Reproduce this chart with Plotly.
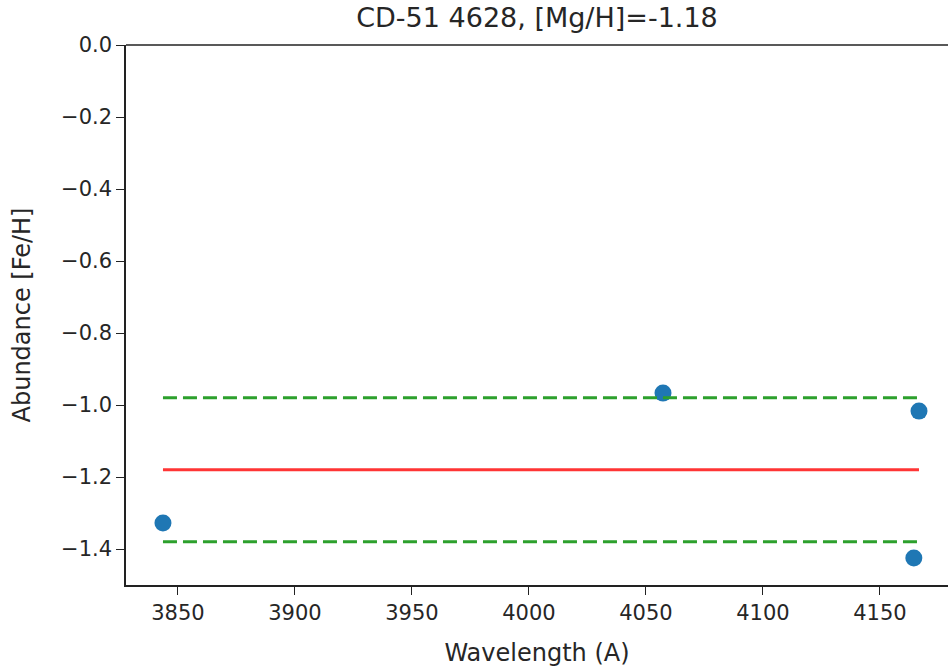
import plotly.graph_objects as go

# Data
wavelengths = [3843.6, 4057.3, 4166.7, 4164.5]
abundances = [-1.328, -0.967, -1.017, -1.425]
mg_h = -1.18
band = 0.2
title_text = "CD-51 4628, [Mg/H]=-1.18"
x_ticks = [3850, 3900, 3950, 4000, 4050, 4100, 4150]
y_ticks = [0.0, -0.2, -0.4, -0.6, -0.8, -1.0, -1.2, -1.4]

xmin, xmax = min(wavelengths), max(wavelengths)

fig = go.Figure()
fig.add_trace(go.Scatter(x=wavelengths, y=abundances, mode="markers",
                         marker=dict(color="#1f77b4", size=17, line=dict(width=0)),
                         showlegend=False))
fig.add_trace(go.Scatter(x=[xmin, xmax], y=[mg_h, mg_h], mode="lines",
                         line=dict(color="#ff3535", width=3), showlegend=False))
for off in (band, -band):
    fig.add_trace(go.Scatter(x=[xmin, xmax], y=[mg_h + off, mg_h + off], mode="lines",
                             line=dict(color="#2ca02c", width=3, dash="14px,6px"),
                             showlegend=False))

font_color = "#262626"
fig.update_layout(
    width=948, height=668,
    margin=dict(l=126, r=0, t=45, b=83),
    paper_bgcolor="white", plot_bgcolor="white",
    font=dict(family="DejaVu Sans", size=21, color=font_color),
    title=dict(text=title_text, x=0.5, xref="paper", xanchor="center",
               y=1, yref="container", yanchor="top", pad=dict(t=8),
               font=dict(size=27, color=font_color)),
    xaxis=dict(range=[3827.8, 4179.1], tickvals=x_ticks, ticktext=[str(v) for v in x_ticks],
               showgrid=False, zeroline=False, showline=True, linecolor="#222", linewidth=1.5,
               ticks="outside", ticklen=8, tickwidth=1.3, tickcolor="#222",
               tickfont=dict(size=21),
               title=dict(text="Wavelength (A)", standoff=20, font=dict(size=24))),
    yaxis=dict(range=[-1.5, 0.0], tickvals=y_ticks, tickformat=".1f",
               showgrid=False, zeroline=False, showline=True, linecolor="#222", linewidth=1.5,
               ticks="outside", ticklen=8, tickwidth=1.3, tickcolor="#222",
               tickfont=dict(size=21),
               title=dict(text="Abundance [Fe/H]", standoff=24, font=dict(size=24))),
    shapes=[dict(type="line", xref="paper", yref="paper", x0=0, x1=1, y0=1, y1=1,
                 line=dict(color="#222", width=1.5))],
)

fig.write_html("out.html")
